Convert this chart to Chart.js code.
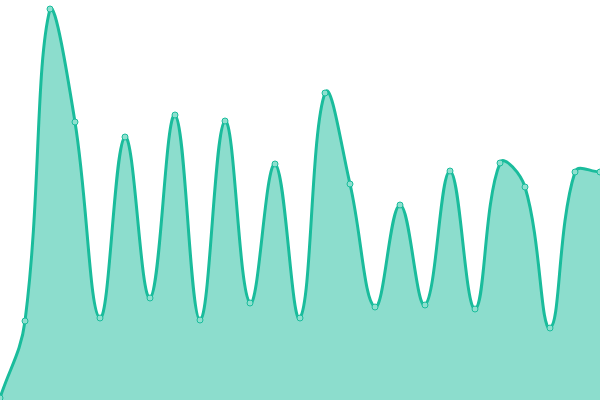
<!DOCTYPE html>
<html>
<head>
<meta charset="utf-8">
<script src="https://cdn.jsdelivr.net/npm/chart.js@4"></script>
<style>
  html, body { margin: 0; padding: 0; background: #fff; }
  #wrap { width: 600px; height: 400px; }
</style>
</head>
<body>
<div id="wrap"><canvas id="areaChart"></canvas></div>
<script>
// values (y scale 0..400)
const labels = ['1', '2', '3', '4', '5', '6', '7', '8', '9', '10', '11', '12', '13',
    '14', '15', '16', '17', '18', '19', '20', '21', '22', '23', '24', '25'];
const values = [2, 79, 391, 278, 82, 263, 102, 285, 80, 279, 97, 236, 82,
    307, 216, 93, 195, 95, 229, 91, 237, 213, 72, 228, 228];

const lineColor = '#1abc9c';
const fillColor = 'rgba(26, 188, 156, 0.5)';

new Chart(document.getElementById('areaChart'), {
    type: 'line',
    data: {
        labels: labels,
        datasets: [{
            data: values,
            borderColor: lineColor,
            backgroundColor: fillColor,
            borderWidth: 3,
            tension: 0.4,
            fill: true,
            pointRadius: 3,
            pointBorderWidth: 1,
            pointBackgroundColor: '#8ee0cf',
            pointBorderColor: lineColor
        }]
    },
    options: {
        responsive: true,
        maintainAspectRatio: false,
        animation: false,
        layout: { padding: 0, autoPadding: false },
        plugins: {
            legend: { display: false },
            tooltip: { enabled: false }
        },
        scales: {
            x: { display: false, offset: false },
            y: { display: false, min: 0, max: 400 }
        }
    }
});
</script>
</body>
</html>
